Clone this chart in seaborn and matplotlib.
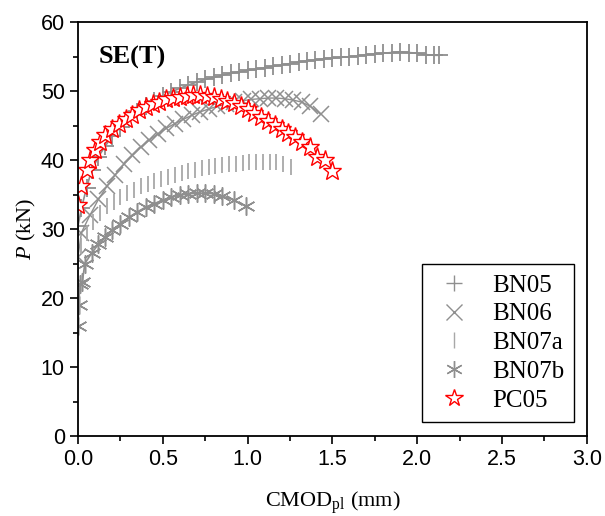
import numpy as np
import pandas as pd
import matplotlib
matplotlib.use("Agg")
import matplotlib.pyplot as plt
import seaborn as sns
from matplotlib.ticker import MultipleLocator, FormatStrFormatter
from matplotlib.lines import Line2D

# ---------------- data ----------------
bn05_x = [0.0, 0.02, 0.05, 0.08, 0.12, 0.16, 0.2, 0.25, 0.3, 0.35, 0.4, 0.45, 0.5, 0.55, 0.6,
          0.65, 0.7, 0.75, 0.8, 0.85, 0.9, 0.95, 1.0, 1.05, 1.1, 1.15, 1.2, 1.25, 1.3, 1.35,
          1.4, 1.45, 1.5, 1.55, 1.6, 1.65, 1.7, 1.75, 1.8, 1.85, 1.9, 1.95, 2.0, 2.05, 2.1, 2.13]
bn05_p = [30.5, 33.0, 36.0, 38.5, 40.5, 42.0, 43.5, 44.8, 46.0, 47.0, 47.8, 48.6, 49.3, 49.9, 50.4,
          50.9, 51.3, 51.7, 52.0, 52.3, 52.6, 52.8, 53.0, 53.2, 53.4, 53.6, 53.8, 54.0, 54.2, 54.4,
          54.5, 54.7, 54.8, 54.9, 55.0, 55.1, 55.3, 55.4, 55.5, 55.6, 55.7, 55.6, 55.5, 55.3, 55.2, 55.2]

bn06_x = [0.0, 0.02, 0.07, 0.12, 0.17, 0.22, 0.27, 0.32, 0.37, 0.42, 0.47, 0.52, 0.57, 0.62,
          0.67, 0.72, 0.77, 0.82, 0.87, 0.92, 0.97, 1.02, 1.07, 1.12, 1.17, 1.22, 1.27, 1.32,
          1.37, 1.43]
bn06_p = [26.0, 29.5, 32.0, 34.3, 36.2, 37.9, 39.4, 40.7, 41.9, 42.9, 43.8, 44.6, 45.3, 45.9,
          46.5, 47.0, 47.4, 47.8, 48.1, 48.4, 48.6, 48.8, 48.9, 49.0, 49.0, 48.9, 48.7, 48.4,
          47.8, 46.7]

bn07a_x = [0.0, 0.02, 0.05, 0.09, 0.13, 0.17, 0.21, 0.25, 0.29, 0.33, 0.37, 0.41, 0.45, 0.49,
           0.53, 0.57, 0.61, 0.65, 0.69, 0.73, 0.77, 0.81, 0.85, 0.89, 0.93, 0.97, 1.01, 1.05,
           1.09, 1.13, 1.17, 1.21, 1.255]
bn07a_p = [25.5, 27.5, 29.5, 31.0, 32.3, 33.3, 34.0, 34.6, 35.2, 35.7, 36.2, 36.6, 37.0, 37.3,
           37.6, 37.9, 38.2, 38.4, 38.6, 38.8, 39.0, 39.2, 39.3, 39.4, 39.5, 39.6, 39.7, 39.8,
           39.8, 39.8, 39.7, 39.5, 39.0]

bn07b_x = [0.0, 0.005, 0.01, 0.025, 0.04, 0.08, 0.12, 0.16, 0.2, 0.25, 0.3, 0.35, 0.4, 0.45,
           0.5, 0.55, 0.6, 0.65, 0.7, 0.75, 0.8, 0.85, 0.92, 0.99]
bn07b_p = [16.0, 19.0, 22.0, 22.3, 25.0, 26.5, 27.8, 28.8, 29.8, 30.8, 31.7, 32.5, 33.2, 33.7,
           34.2, 34.6, 34.9, 35.1, 35.2, 35.2, 35.1, 34.8, 34.2, 33.3]

pc05_x = [0.0, 0.02, 0.05, 0.07, 0.1, 0.13, 0.16, 0.2, 0.24, 0.28, 0.32, 0.36, 0.4, 0.44, 0.48,
          0.52, 0.56, 0.6, 0.64, 0.68, 0.72, 0.76, 0.8, 0.84, 0.88, 0.92, 0.96, 1.0, 1.04, 1.08,
          1.12, 1.16, 1.2, 1.24, 1.28, 1.32, 1.37, 1.41, 1.455, 1.5]
pc05_p = [33.5, 36.2, 38.5, 40.0, 41.5, 42.6, 43.6, 44.5, 45.3, 46.0, 46.6, 47.2, 47.7, 48.1, 48.5,
          48.8, 49.0, 49.2, 49.3, 49.4, 49.4, 49.3, 49.1, 48.9, 48.6, 48.3, 47.9, 47.4, 46.8, 46.3,
          45.7, 45.1, 44.5, 43.9, 43.3, 42.6, 41.9, 40.4, 40.0, 38.4]

labels = ["BN05", "BN06", "BN07a", "BN07b", "PC05"]
xs = [bn05_x, bn06_x, bn07a_x, bn07b_x, pc05_x]
ps = [bn05_p, bn06_p, bn07a_p, bn07b_p, pc05_p]

frames = [pd.DataFrame({"x": x, "P": p, "series": lab}) for x, p, lab in zip(xs, ps, labels)]
df = pd.concat(frames, ignore_index=True)

# ---------------- styling ----------------
sns.set_theme(style="ticks")
plt.rcParams["font.family"] = ["Liberation Sans", "DejaVu Sans"]
plt.rcParams["text.color"] = "black"
plt.rcParams["axes.labelcolor"] = "black"
plt.rcParams["xtick.color"] = "black"
plt.rcParams["ytick.color"] = "black"
plt.rcParams["mathtext.fontset"] = "custom"
plt.rcParams["mathtext.rm"] = "Liberation Serif"
plt.rcParams["mathtext.it"] = "Liberation Serif:italic"

gray = "#8f8f8f"
styles = {
    "BN05": dict(marker="+", ms=13, mew=1.3, color=gray, lw=1.2, mfc=gray),
    "BN06": dict(marker="x", ms=12, mew=1.1, color=gray, lw=1.0, mfc=gray),
    "BN07a": dict(marker="|", ms=12, mew=1.3, color="#a8a8a8", lw=0, mfc="#a8a8a8"),
    "BN07b": dict(marker=(6, 2, 0), ms=13, mew=1.1, color=gray, lw=1.2, mfc=gray),
    "PC05": dict(marker="*", ms=14, mew=1.0, color="red", lw=0, mfc="white"),
}

fig = plt.figure(figsize=(6.05, 5.16), dpi=100)
ax = fig.add_axes([0.129, 0.155, 0.841, 0.802])

for lab in labels:
    st = styles[lab]
    sub = df[df["series"] == lab]
    sns.lineplot(data=sub, x="x", y="P", ax=ax, sort=False, estimator=None,
                 color=st["color"], linewidth=st["lw"], marker=st["marker"],
                 markersize=st["ms"], markeredgewidth=st["mew"],
                 markerfacecolor=st["mfc"], markeredgecolor=st["color"],
                 label=lab, legend=False)

ax.set_xlim(0, 3.0)
ax.set_ylim(0, 60)
ax.xaxis.set_major_locator(MultipleLocator(0.5))
ax.xaxis.set_minor_locator(MultipleLocator(0.25))
ax.yaxis.set_major_locator(MultipleLocator(10))
ax.yaxis.set_minor_locator(MultipleLocator(5))
ax.xaxis.set_major_formatter(FormatStrFormatter("%.1f"))
ax.tick_params(axis="both", which="major", direction="out", length=6, width=1.2,
               labelsize=15.5, colors="black")
ax.tick_params(axis="both", which="minor", direction="out", length=3.5, width=1.2,
               colors="black")
ax.tick_params(top=False, right=False, which="both")
for s in ax.spines.values():
    s.set_linewidth(1.3)
    s.set_color("black")
    s.set_visible(True)

serif = ["Liberation Serif", "DejaVu Serif"]
ax.set_xlabel(r"CMOD$_{\mathregular{pl}}$ (mm)", fontsize=16, family=serif, labelpad=14,
              color="black")
ax.set_ylabel(r"$\mathit{P}$ (kN)", fontsize=16, family=serif, labelpad=2, color="black")

ax.text(0.04, 0.915, "SE(T)", transform=ax.transAxes, fontsize=19, fontweight="bold",
        family=serif, va="center", ha="left", color="black")

handles = []
for lab in labels:
    st = styles[lab]
    handles.append(Line2D([], [], linestyle="none", marker=st["marker"], markersize=st["ms"] - 1,
                          markeredgewidth=1.0, color=st["color"],
                          markerfacecolor=st["mfc"], markeredgecolor=st["color"]))
leg = ax.legend(handles, labels, loc="lower right", bbox_to_anchor=(0.975, 0.035),
                frameon=True, fancybox=False, edgecolor="black", framealpha=1,
                prop={"family": serif, "size": 18}, handlelength=1.8, handletextpad=0.6,
                labelspacing=0.25, borderpad=0.4, borderaxespad=0)
leg.get_frame().set_linewidth(1.0)
for t in leg.get_texts():
    t.set_color("black")

fig.savefig("out.png", dpi=100)
